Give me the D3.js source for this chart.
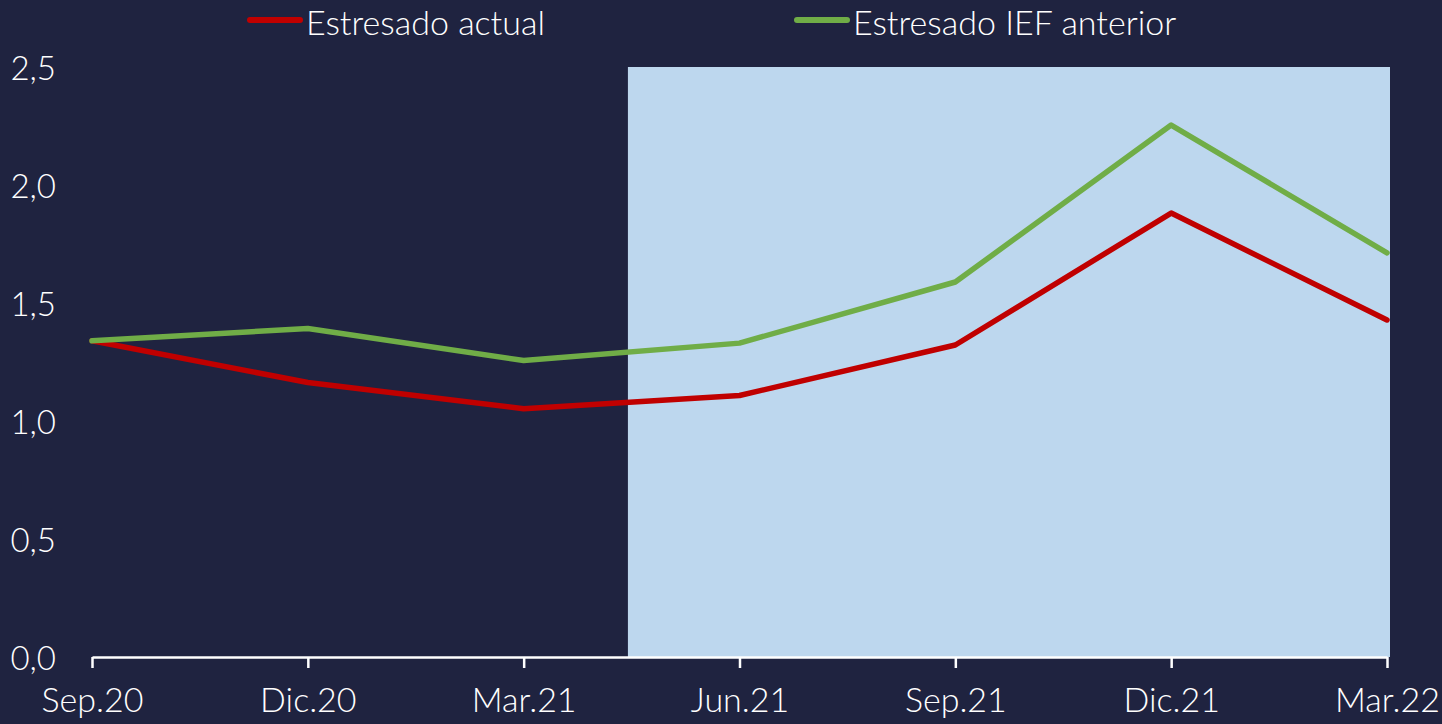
<!DOCTYPE html>
<html><head><meta charset="utf-8">
<script src="https://cdn.jsdelivr.net/npm/d3@7"></script>
<style>
html,body{margin:0;padding:0;background:#1f2340;}
svg{display:block;}
text{font-family:Lato,"Open Sans",sans-serif;font-weight:300;fill:#ffffff;}
</style></head>
<body>
<svg id="c" width="1442" height="724"></svg>
<script>
const categories = ["Sep.20","Dic.20","Mar.21","Jun.21","Sep.21","Dic.21","Mar.22"];
const actual = [1.34, 1.163, 1.052, 1.108, 1.322, 1.881, 1.428];
const previous = [1.34, 1.392, 1.256, 1.33, 1.589, 2.254, 1.712];
const yTicks = [0, 0.5, 1.0, 1.5, 2.0, 2.5];
const seriesNames = ["Estresado actual", "Estresado IEF anterior"];
const seriesColors = ["#c00000", "#70ad47"];
const shadeFrom = 2.483; // shaded band start (index units)

const svg = d3.select("#c");
const W = 1442, H = 724;
svg.append("rect").attr("width", W).attr("height", H).attr("fill", "#1f2340");

const x = d3.scaleLinear().domain([0, categories.length - 1]).range([92, 1387]);
const y = d3.scaleLinear().domain([0, 2.5]).range([657, 67]);

// shaded band
svg.append("rect")
  .attr("x", x(shadeFrom))
  .attr("y", y(2.5))
  .attr("width", 1390 - x(shadeFrom))
  .attr("height", y(0) - y(2.5))
  .attr("fill", "#bdd7ee");

// y labels
svg.append("g").selectAll("text").data(yTicks).join("text")
  .attr("x", 56).attr("y", d => y(d))
  .attr("text-anchor", "end").attr("dominant-baseline", "central")
  .style("font-size", "33px")
  .text(d => d3.format(".1f")(d).replace(".", ","));

// x axis
const xAxis = d3.axisBottom(x).tickValues(d3.range(categories.length))
  .tickFormat(i => categories[i]).tickSize(11).tickSizeOuter(0).tickPadding(20);
const gx = svg.append("g").attr("transform", `translate(0,${y(0)})`).call(xAxis);
gx.select(".domain").attr("stroke", "#ffffff").attr("stroke-width", 2.5);
gx.selectAll(".tick line").attr("stroke", "#ffffff").attr("stroke-width", 2.5);
gx.selectAll(".tick text").style("font-size", "34px").attr("fill", "#ffffff")
  .style("font-family", "Lato, 'Open Sans', sans-serif").style("font-weight", 300);

// lines
const line = d3.line().x((d, i) => x(i)).y(d => y(d));
[actual, previous].forEach((s, k) => {
  svg.append("path").datum(s).attr("d", line)
    .attr("fill", "none").attr("stroke", seriesColors[k])
    .attr("stroke-width", 5.5).attr("stroke-linejoin", "round").attr("stroke-linecap", "round");
});

// legend
const legendX = [248, 795];
seriesNames.forEach((n, k) => {
  const g = svg.append("g").attr("transform", `translate(${legendX[k]},20)`);
  g.append("line").attr("x1", 2).attr("x2", 52).attr("y1", 0).attr("y2", 0)
    .attr("stroke", seriesColors[k]).attr("stroke-width", 6).attr("stroke-linecap", "round");
  g.append("text").attr("x", 58).attr("y", 1).attr("dominant-baseline", "central")
    .style("font-size", "34px").text(n);
});
</script>
</body></html>
